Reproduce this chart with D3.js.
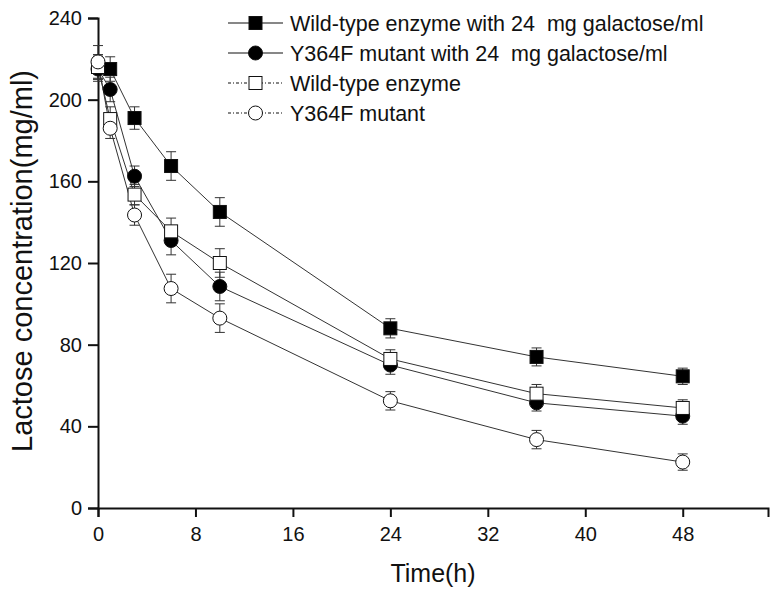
<!DOCTYPE html>
<html>
<head>
<meta charset="utf-8">
<script src="https://cdn.jsdelivr.net/npm/d3@7"></script>
<style>
  body { margin: 0; background: #fff; }
  text { font-family: Arial, "Liberation Sans", sans-serif; fill: #111; white-space: pre; }
</style>
</head>
<body>
<svg id="chart"></svg>
<script>
// Time points (h)
var times = [0, 1, 3, 6, 10, 24, 36, 48];

// Lactose concentration (mg/ml) per series
var wtGal   = [216, 215, 191, 167.5, 145, 88, 74, 64.5];
var wtGalE  = [6, 6, 5.5, 7, 7, 4.7, 4.4, 4];
var mutGal  = [215, 205, 162.5, 131, 108.5, 70, 51.5, 45];
var mutGalE = [6, 6, 5, 7, 7, 4.5, 4, 4];
var wt      = [216, 190.5, 153.5, 135.5, 120, 73, 56, 49];
var wtE     = [6, 6, 5, 6.5, 7, 4.5, 4.5, 4];
var mut     = [218.5, 186, 143.5, 107.5, 93, 52.5, 33.5, 22.5];
var mutE    = [8, 5, 5, 7, 7, 4.5, 4.5, 4];

var seriesNames = [
  "Wild-type enzyme with 24  mg galactose/ml",
  "Y364F mutant with 24  mg galactose/ml",
  "Wild-type enzyme",
  "Y364F mutant"
];

var xTicks = [0, 8, 16, 24, 32, 40, 48];
var yTicks = [0, 40, 80, 120, 160, 200, 240];

var w = 774,
    h = 597;

var svg = d3.select("#chart")
    .attr("width", w)
    .attr("height", h);

var x = d3.scaleLinear().domain([0, 55]).range([98, 768]);
var y = d3.scaleLinear().domain([0, 240]).range([508, 18]);

var series = [
  { name: seriesNames[0], vals: wtGal,  errs: wtGalE,  shape: "square", fill: "#000", dash: null },
  { name: seriesNames[1], vals: mutGal, errs: mutGalE, shape: "circle", fill: "#000", dash: null },
  { name: seriesNames[2], vals: wt,     errs: wtE,     shape: "square", fill: "#fff", dash: "3,2,1,2" },
  { name: seriesNames[3], vals: mut,    errs: mutE,    shape: "circle", fill: "#fff", dash: "3,2,1,2" }
];

// axes
var xAxis = d3.axisBottom(x).tickValues(xTicks).tickSize(9).tickPadding(10);
var yAxis = d3.axisLeft(y).tickValues(yTicks).tickSize(10).tickPadding(6);

var gx = svg.append("g")
    .attr("transform", "translate(0," + y(0) + ")")
    .call(xAxis);
var gy = svg.append("g")
    .attr("transform", "translate(" + x(0) + ",0)")
    .call(yAxis);

[gx, gy].forEach(function(g) {
  g.select(".domain").attr("stroke", "#111").attr("stroke-width", 2);
  g.selectAll(".tick line").attr("stroke", "#111").attr("stroke-width", 2);
  g.selectAll(".tick text")
    .style("font-family", "Arial, 'Liberation Sans', sans-serif")
    .style("font-size", "20px")
    .attr("fill", "#111");
});

svg.append("text")
    .attr("x", 433)
    .attr("y", 582)
    .attr("text-anchor", "middle")
    .style("font-size", "25px")
    .text("Time(h)");

svg.append("text")
    .attr("transform", "translate(32,261) rotate(-90)")
    .attr("text-anchor", "middle")
    .style("font-size", "29px")
    .text("Lactose concentration(mg/ml)");

var line = d3.line()
    .x(function(d) { return x(d.t); })
    .y(function(d) { return y(d.v); });

function drawMarker(g, shape, fill, cx, cy) {
  if (shape === "square") {
    g.append("rect")
      .attr("x", cx - 6.5).attr("y", cy - 6.5)
      .attr("width", 13).attr("height", 13)
      .attr("fill", fill).attr("stroke", "#111").attr("stroke-width", 1);
  } else {
    g.append("circle")
      .attr("cx", cx).attr("cy", cy).attr("r", 7)
      .attr("fill", fill).attr("stroke", "#111").attr("stroke-width", 1);
  }
}

// lines and error bars first, markers on top
series.forEach(function(s) {
  var pts = times.map(function(t, i) { return { t: t, v: s.vals[i], e: s.errs[i] }; });
  var g = svg.append("g");
  g.append("path")
    .datum(pts)
    .attr("fill", "none")
    .attr("stroke", "#333")
    .attr("stroke-width", 1)
    .attr("d", line);
  pts.forEach(function(p) {
    var px = x(p.t);
    g.append("line")
      .attr("x1", px).attr("x2", px)
      .attr("y1", y(p.v + p.e)).attr("y2", y(p.v - p.e))
      .attr("stroke", "#333").attr("stroke-width", 1);
    [p.v + p.e, p.v - p.e].forEach(function(v) {
      g.append("line")
        .attr("x1", px - 5).attr("x2", px + 5)
        .attr("y1", y(v)).attr("y2", y(v))
        .attr("stroke", "#333").attr("stroke-width", 1);
    });
  });
  s.pts = pts;
});

series.forEach(function(s) {
  var g = svg.append("g");
  s.pts.forEach(function(p) {
    drawMarker(g, s.shape, s.fill, x(p.t), y(p.v));
  });
});

// legend
var legend = svg.append("g");
series.forEach(function(s, i) {
  var ly = 23 + i * 30;
  var g = legend.append("g");
  g.append("line")
    .attr("x1", 228).attr("x2", 283)
    .attr("y1", ly).attr("y2", ly)
    .attr("stroke", "#111").attr("stroke-width", 1.2)
    .attr("stroke-dasharray", s.dash);
  drawMarker(g, s.shape, s.fill, 255.5, ly);
  g.append("text")
    .attr("x", 290)
    .attr("y", ly)
    .attr("dy", "0.35em")
    .style("font-size", "21.5px")
    .text(s.name);
});
</script>
</body>
</html>
